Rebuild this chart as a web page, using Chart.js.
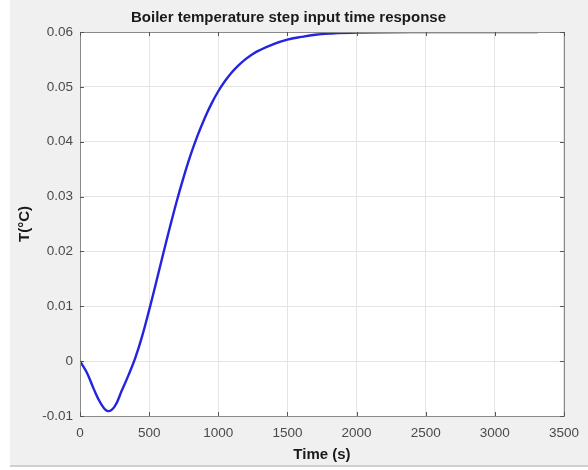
<!DOCTYPE html>
<html>
<head>
<meta charset="utf-8">
<script src="https://cdn.jsdelivr.net/npm/chart.js@4"></script>
<style>
  html, body { margin: 0; padding: 0; background: #ffffff; }
  #wrap { position: relative; width: 588px; height: 470px; overflow: hidden; }
  #bg { position: absolute; left: 10px; top: 0; width: 578px; height: 465px; background: #f0f0f0; border-bottom: 2px solid #cfcfcf; }
  canvas { position: absolute; left: 0; top: 0; }
</style>
</head>
<body>
<div id="wrap">
  <div id="bg"></div>
  <canvas id="c" width="588" height="470"></canvas>
</div>
<script>
// Values
const timeSec = [0, 50, 100, 150, 200, 250, 300, 350, 400, 450, 500, 550, 600, 650, 700, 750, 800, 850, 900, 950, 1000, 1050, 1100, 1150, 1200, 1250, 1300, 1400, 1500, 1600, 1700, 1800, 2000, 2500, 3000, 3310];
const tempC   = [0, -0.0021, -0.0051, -0.0077, -0.0091, -0.0083, -0.0055, -0.0026, 0.0006, 0.0046, 0.0093, 0.0143, 0.0194, 0.0244, 0.0292, 0.0336, 0.0376, 0.0411, 0.0442, 0.0469, 0.0492, 0.0511, 0.0527, 0.0540, 0.0551, 0.0560, 0.0567, 0.0578, 0.0586, 0.0591, 0.0595, 0.0597, 0.0599, 0.0600, 0.0600, 0.0600];
const xTicks = [0, 500, 1000, 1500, 2000, 2500, 3000, 3500];
const yTicks = [-0.01, 0, 0.01, 0.02, 0.03, 0.04, 0.05, 0.06];
const titleText = 'Boiler temperature step input time response';
const xLabel = 'Time (s)';
const yLabel = 'T(°C)';

const FONT = '"Liberation Sans", Arial, sans-serif';

const plotFrame = {
  id: 'plotFrame',
  beforeDraw(chart) {
    const {ctx, chartArea: a} = chart;
    ctx.save();
    ctx.fillStyle = '#ffffff';
    ctx.fillRect(a.left, a.top, a.right - a.left, a.bottom - a.top);
    ctx.restore();
  },
  afterDatasetsDraw(chart) {
    const {ctx, chartArea: a, scales} = chart;
    ctx.save();
    ctx.strokeStyle = '#8a8a8a';
    ctx.lineWidth = 1;
    ctx.strokeRect(Math.round(a.left) + 0.5, Math.round(a.top) + 0.5, Math.round(a.right - a.left), Math.round(a.bottom - a.top));
    // inward tick marks (MATLAB style)
    ctx.strokeStyle = '#555555';
    xTicks.forEach(v => {
      const x = Math.round(scales.x.getPixelForValue(v)) + 0.5;
      ctx.beginPath(); ctx.moveTo(x, a.bottom); ctx.lineTo(x, a.bottom - 4); ctx.stroke();
      ctx.beginPath(); ctx.moveTo(x, a.top); ctx.lineTo(x, a.top + 4); ctx.stroke();
    });
    yTicks.forEach(v => {
      const y = Math.round(scales.y.getPixelForValue(v)) + 0.5;
      ctx.beginPath(); ctx.moveTo(a.left, y); ctx.lineTo(a.left + 4, y); ctx.stroke();
      ctx.beginPath(); ctx.moveTo(a.right, y); ctx.lineTo(a.right - 4, y); ctx.stroke();
    });
    ctx.restore();
  }
};

new Chart(document.getElementById('c'), {
  type: 'line',
  data: {
    datasets: [{
      data: timeSec.map((t, i) => ({x: t, y: tempC[i]})),
      borderColor: '#2424e0',
      borderWidth: 2.4,
      pointRadius: 0,
      tension: 0.4,
      fill: false
    }]
  },
  options: {
    responsive: false,
    animation: false,
    layout: { padding: { left: 10, right: 21, top: 0, bottom: 0 } },
    plugins: {
      legend: { display: false },
      tooltip: { enabled: false },
      title: {
        display: true,
        text: titleText,
        color: '#1a1a1a',
        font: { family: FONT, size: 15, weight: 'bold', lineHeight: 1.2 },
        padding: { top: 9, bottom: 5 }
      }
    },
    scales: {
      x: {
        type: 'linear',
        min: 0, max: 3500,
        afterBuildTicks(s) { s.ticks = xTicks.map(v => ({value: v})); },
        afterFit(s) { s.height = 54; },
        ticks: {
          color: '#4a4a4a',
          font: { family: FONT, size: 13.5 },
          padding: 9,
          maxRotation: 0,
          callback: v => String(v)
        },
        grid: { color: '#e4e4e4', drawTicks: false },
        border: { display: false },
        title: {
          display: true, text: xLabel, color: '#1a1a1a',
          font: { family: FONT, size: 15, weight: 'bold', lineHeight: 1.2 },
          padding: { top: 0, bottom: 6 }
        }
      },
      y: {
        type: 'linear',
        min: -0.01, max: 0.06,
        afterBuildTicks(s) { s.ticks = yTicks.map(v => ({value: v})); },
        afterFit(s) { s.width = 70; },
        ticks: {
          color: '#4a4a4a',
          font: { family: FONT, size: 13.5 },
          padding: 7,
          callback: v => { const r = Math.round(v * 100) / 100; return r === 0 ? '0' : String(r); }
        },
        grid: { color: '#e4e4e4', drawTicks: false },
        border: { display: false },
        title: {
          display: true, text: yLabel, color: '#1a1a1a',
          font: { family: FONT, size: 15, weight: 'bold', lineHeight: 1.2 },
          padding: { top: 6, bottom: 0 }
        }
      }
    }
  },
  plugins: [plotFrame]
});
</script>
</body>
</html>
